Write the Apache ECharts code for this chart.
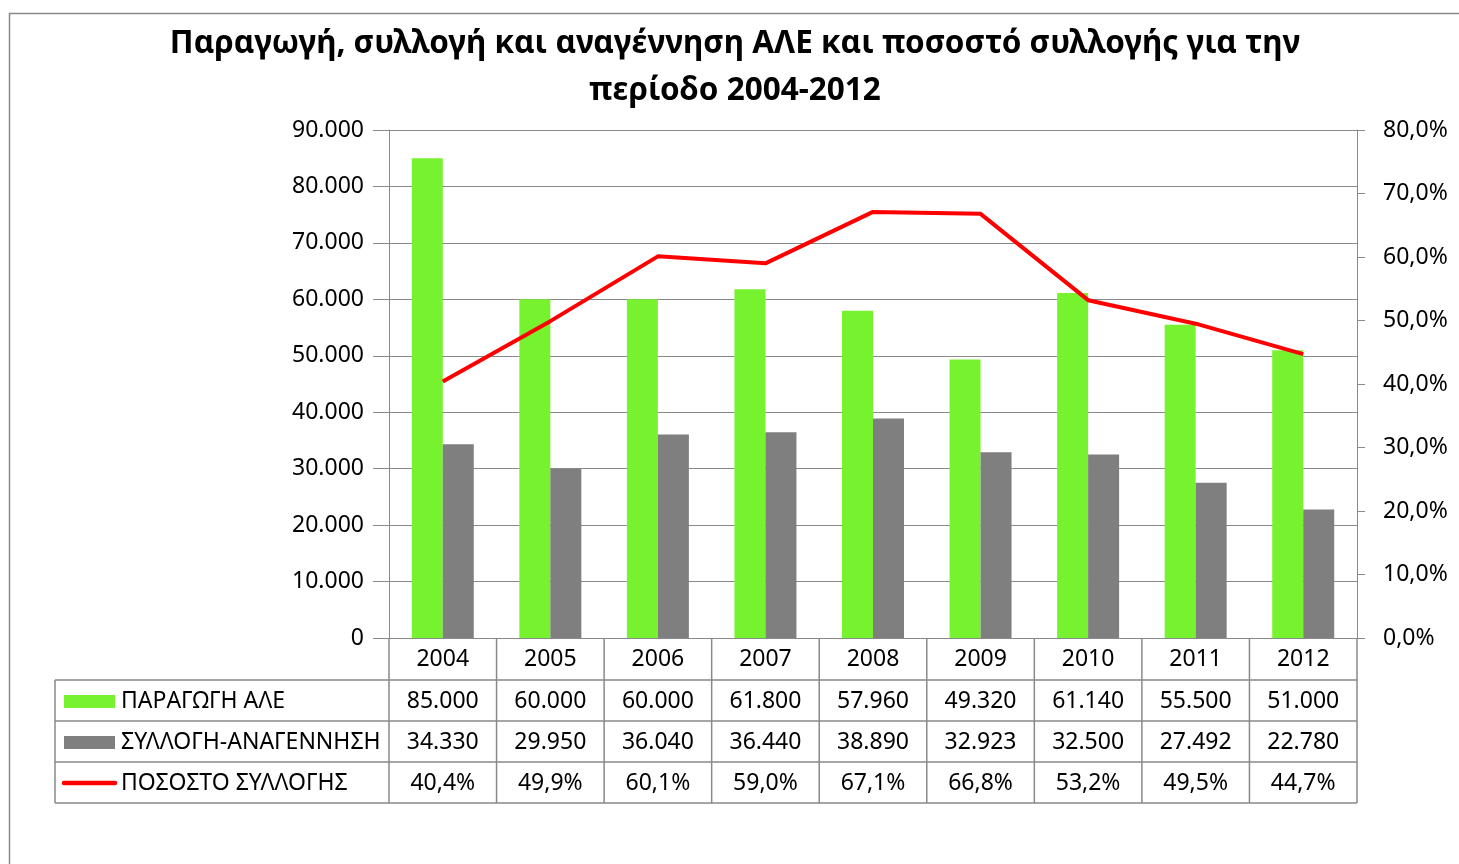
<!DOCTYPE html>
<html>
<head>
<meta charset="utf-8">
<script src="https://cdn.jsdelivr.net/npm/echarts@6/dist/echarts.min.js"></script>
<style>
  html, body { margin: 0; background: #fff; }
  #main { width: 1459px; height: 864px; }
</style>
</head>
<body>
<div id="main"></div>
<script>
// data
const years = ["2004", "2005", "2006", "2007", "2008", "2009", "2010", "2011", "2012"];
const production = [85000, 60000, 60000, 61800, 57960, 49320, 61140, 55500, 51000];
const collection = [34330, 29950, 36040, 36440, 38890, 32923, 32500, 27492, 22780];
const collectionPct = [40.4, 49.9, 60.1, 59.0, 67.1, 66.8, 53.2, 49.5, 44.7];
const seriesNames = ["ΠΑΡΑΓΩΓΗ ΑΛΕ", "ΣΥΛΛΟΓΗ-ΑΝΑΓΕΝΝΗΣΗ", "ΠΟΣΟΣΤΟ ΣΥΛΛΟΓΗΣ"];

const FONT = '"Noto Sans", sans-serif';
const COLORS = ["#77f22f", "#7f7f7f", "#ff0000"];
const LINE = "#898989";
const GRID = { left: 389, right: 102, top: 130, bottom: 226 };

const fmtNum = (v) => String(Math.round(v)).replace(/\B(?=(\d{3})+(?!\d))/g, ".");
const fmtPct = (v) => v.toFixed(1).replace(".", ",") + "%";

const chart = echarts.init(document.getElementById("main"));

const option = {
  animation: false,
  backgroundColor: "#fff",
  color: COLORS,
  textStyle: { fontFamily: FONT },
  title: {
    text: "Παραγωγή, συλλογή και αναγέννηση ΑΛΕ και ποσοστό συλλογής για την\nπερίοδο 2004-2012",
    left: 735,
    textAlign: "center",
    top: 21,
    padding: 0,
    textStyle: {
      fontFamily: FONT,
      fontSize: 31.5,
      fontWeight: "bold",
      color: "#000",
      lineHeight: 47,
    },
  },
  grid: GRID,
  xAxis: {
    type: "category",
    data: years,
    axisLine: { show: true, lineStyle: { color: LINE, width: 1 } },
    axisTick: { show: false },
    axisLabel: { color: "#000", fontSize: 23, margin: 10 },
  },
  yAxis: [
    {
      type: "value",
      min: 0,
      max: 90000,
      interval: 10000,
      axisLine: { show: true, lineStyle: { color: LINE } },
      axisTick: { show: true, length: 16, lineStyle: { color: LINE } },
      splitLine: { show: true, lineStyle: { color: LINE, width: 1 } },
      axisLabel: { color: "#000", fontSize: 23, margin: 25, padding: [4, 0, 0, 0], formatter: fmtNum },
    },
    {
      type: "value",
      min: 0,
      max: 80,
      interval: 10,
      axisLine: { show: true, lineStyle: { color: LINE } },
      axisTick: { show: true, length: 8, lineStyle: { color: LINE } },
      splitLine: { show: false },
      axisLabel: { color: "#000", fontSize: 23, margin: 26, padding: [4, 0, 0, 0], formatter: fmtPct },
    },
  ],
  series: [
    { name: seriesNames[0], type: "bar", data: production, barWidth: 31, barGap: "0%" },
    { name: seriesNames[1], type: "bar", data: collection, barWidth: 31, barGap: "0%" },
    {
      name: seriesNames[2],
      type: "line",
      yAxisIndex: 1,
      data: collectionPct,
      symbol: "none",
      z: 5,
      lineStyle: { width: 4, color: COLORS[2] },
    },
  ],
};
chart.setOption(option);

// data table underneath the plot, placed from the category axis
function buildTable() {
  const x0 = GRID.left;
  const x1 = 1459 - GRID.right;
  const yAxisBottom = 864 - GRID.bottom;
  const band = (x1 - x0) / years.length;
  const rowTops = [yAxisBottom + 42, yAxisBottom + 83, yAxisBottom + 124];
  const tableBottom = yAxisBottom + 165;
  const leftX = 55;
  const rows = [
    production.map(fmtNum),
    collection.map(fmtNum),
    collectionPct.map(fmtPct),
  ];
  const els = [];
  const line = (a, b, c, d) =>
    els.push({
      type: "line",
      shape: { x1: a, y1: b, x2: c, y2: d },
      style: { stroke: LINE, lineWidth: 1.5 },
    });

  // borders
  rowTops.concat([tableBottom]).forEach((y) => line(leftX, y, x1, y));
  line(leftX, rowTops[0], leftX, tableBottom);
  for (let i = 0; i <= years.length; i++) {
    const x = x0 + band * i;
    line(x, yAxisBottom, x, tableBottom);
  }

  // cell values
  rows.forEach((vals, r) => {
    const cy = rowTops[r] + 21;
    vals.forEach((t, i) => {
      const cx = chart.convertToPixel({ xAxisIndex: 0 }, years[i]);
      els.push({
        type: "text",
        x: cx,
        y: cy,
        style: { text: t, fontFamily: FONT, fontSize: 23, fill: "#000", align: "center", verticalAlign: "middle" },
      });
    });
    // legend key + name
    if (r < 2) {
      els.push({ type: "rect", shape: { x: 64, y: cy - 6, width: 51, height: 13 }, style: { fill: COLORS[r] } });
    } else {
      els.push({
        type: "line",
        shape: { x1: 64, y1: cy, x2: 115, y2: cy },
        style: { stroke: COLORS[2], lineWidth: 4.5, lineCap: "round" },
      });
    }
    els.push({
      type: "text",
      x: 121,
      y: cy,
      style: { text: seriesNames[r], fontFamily: FONT, fontSize: 23, fill: "#000", align: "left", verticalAlign: "middle" },
    });
  });

  // chart area border
  els.push({
    type: "rect",
    shape: { x: 9.5, y: 13.5, width: 1500, height: 900 },
    style: { fill: "none", stroke: LINE, lineWidth: 1.5 },
    z: -1,
  });
  chart.setOption({ graphic: els });
}
buildTable();
</script>
</body>
</html>
